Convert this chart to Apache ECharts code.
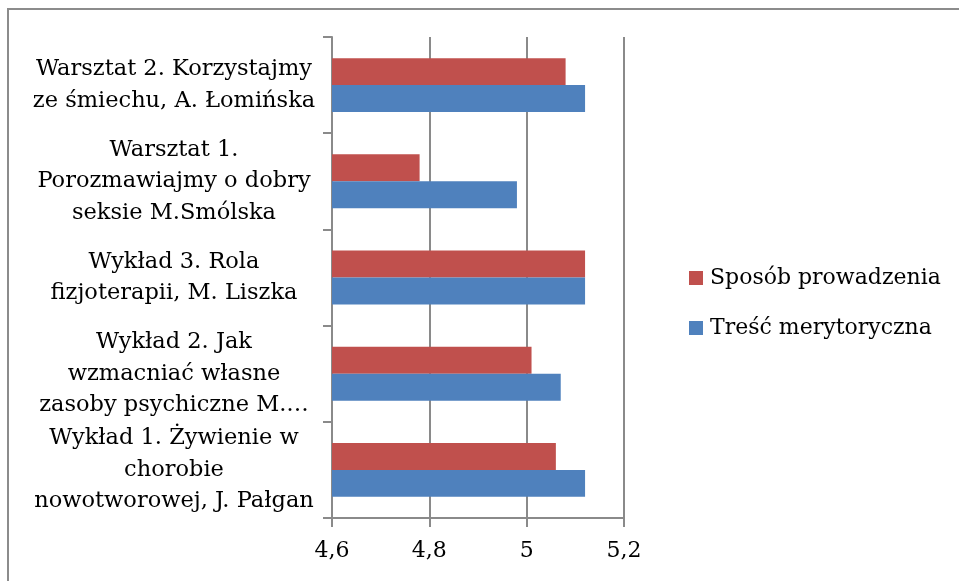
<!DOCTYPE html>
<html>
<head>
<meta charset="utf-8">
<script src="https://cdn.jsdelivr.net/npm/echarts@6/dist/echarts.min.js"></script>
<style>
  html, body { margin: 0; padding: 0; background: #fff; }
  #chart { width: 959px; height: 581px; }
</style>
</head>
<body>
<div id="chart"></div>
<script>
// kategorie od dołu do góry (jak w Excelu)
var categories = [
  'Wykład 1. Żywienie w\nchorobie\nnowotworowej, J. Pałgan',
  'Wykład 2. Jak\nwzmacniać własne\nzasoby psychiczne M.…',
  'Wykład 3. Rola\nfizjoterapii, M. Liszka',
  'Warsztat 1.\nPorozmawiajmy o dobry\nseksie M.Smólska',
  'Warsztat 2. Korzystajmy\nze śmiechu, A. Łomińska'
]
var sposobValues = [5.06, 5.01, 5.12, 4.78, 5.08]
var trescValues = [5.12, 5.07, 5.12, 4.98, 5.12]
var seriesNames = ['Sposób prowadzenia', 'Treść merytoryczna']

var font = 'DejaVu Serif'
var grey = '#8a8a8a'

var option = {
  animation: false,
  textStyle: { fontFamily: font },
  graphic: [{
    type: 'rect',
    shape: { x: 8, y: 9, width: 1000, height: 620 },
    style: { fill: 'none', stroke: '#8c8c8c', lineWidth: 2 },
    silent: true
  }],
  grid: { left: 332, right: 335, top: 37, bottom: 63 },
  legend: {
    orient: 'vertical',
    left: 684,
    top: 260,
    itemWidth: 14,
    itemHeight: 14,
    itemGap: 24,
    icon: 'rect',
    data: seriesNames,
    textStyle: { fontFamily: font, fontSize: 22, color: '#000', lineHeight: 26, padding: [0, 0, 0, 2] }
  },
  xAxis: {
    type: 'value',
    min: 4.6,
    max: 5.2,
    interval: 0.2,
    axisLine: { show: true, lineStyle: { color: grey, width: 2 } },
    axisTick: { show: true, length: 9, lineStyle: { color: grey, width: 2 } },
    splitLine: { show: true, lineStyle: { color: grey, width: 2 } },
    axisLabel: {
      color: '#000',
      fontFamily: font,
      fontSize: 22,
      margin: 22,
      formatter: function (v) { return String(Math.round(v * 10) / 10).replace('.', ',') }
    }
  },
  yAxis: {
    type: 'category',
    data: categories,
    axisLine: { show: true, lineStyle: { color: grey, width: 2 } },
    axisTick: { show: true, length: 9, lineStyle: { color: grey, width: 2 } },
    axisLabel: {
      color: '#000',
      fontFamily: font,
      fontSize: 22.5,
      lineHeight: 31.5,
      align: 'center',
      margin: 158
    }
  },
  series: [
    {
      name: seriesNames[0],
      type: 'bar',
      data: sposobValues,
      itemStyle: { color: '#C0504D' },
      barGap: '0%',
      barCategoryGap: '44%'
    },
    {
      name: seriesNames[1],
      type: 'bar',
      data: trescValues,
      itemStyle: { color: '#4F81BD' },
      barGap: '0%',
      barCategoryGap: '44%'
    }
  ]
}

var myChart = echarts.init(document.getElementById('chart'))
myChart.setOption(option)
</script>
</body>
</html>
